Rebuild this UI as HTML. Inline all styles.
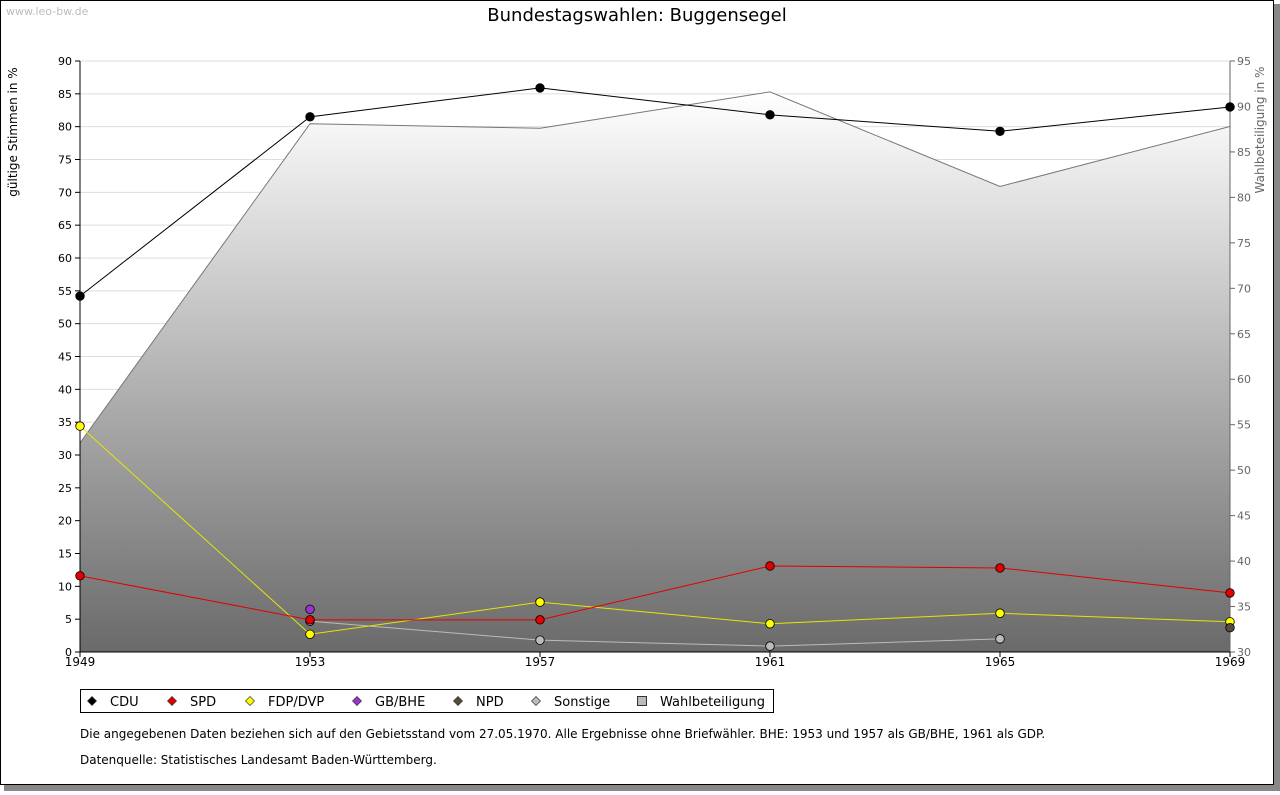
<!DOCTYPE html>
<html><head><meta charset="utf-8"><style>
body{margin:0;background:#fff;font-family:"DejaVu Sans",sans-serif;}
</style></head><body>
<svg id="c" width="1280" height="791" xmlns="http://www.w3.org/2000/svg" font-family="DejaVu Sans, sans-serif">
<defs><linearGradient id="g" x1="0" y1="0" x2="0" y2="1"><stop offset="0" stop-color="#ffffff"/><stop offset="1" stop-color="#6a6a6a"/></linearGradient></defs>
<rect x="4" y="4" width="1276" height="787" fill="#888"/>
<rect x="0.5" y="0.5" width="1273" height="784" fill="#fff" stroke="#000"/>
<text x="6" y="15" font-size="11" fill="#bbb">www.leo-bw.de</text>
<text x="637" y="21" font-size="18" text-anchor="middle">Bundestagswahlen: Buggensegel</text>
<g id="plot"></g>
<text transform="translate(17,132) rotate(-90)" font-size="12" text-anchor="middle">gültige Stimmen in %</text>
<text transform="translate(1264,130) rotate(-90)" font-size="12" fill="#666" text-anchor="middle">Wahlbeteiligung in %</text>
<g>
<rect x="80.5" y="689.5" width="693" height="23" fill="#fff" stroke="#000"/>
<g id="leg"></g>
</g>
<text x="80" y="738" font-size="12">Die angegebenen Daten beziehen sich auf den Gebietsstand vom 27.05.1970. Alle Ergebnisse ohne Briefwähler. BHE: 1953 und 1957 als GB/BHE, 1961 als GDP.</text>
<text x="80" y="764" font-size="12">Datenquelle: Statistisches Landesamt Baden-Württemberg.</text>
</svg>
<script>
const years=[1949,1953,1957,1961,1965,1969];
const cdu=[54.2,81.5,85.9,81.8,79.3,83.0];
const spd=[11.6,4.9,4.9,13.1,12.8,9.0];
const fdp=[34.4,2.7,7.6,4.3,5.9,4.6];
const bhe=[null,6.5,null,null,null,null];
const npd=[null,null,null,null,null,3.7];
const sonst=[null,4.7,1.8,0.9,2.0,null];
const wahl=[53.0,88.1,87.6,91.6,81.2,87.8];
const leftTicks=[0,5,10,15,20,25,30,35,40,45,50,55,60,65,70,75,80,85,90];
const rightTicks=[30,35,40,45,50,55,60,65,70,75,80,85,90,95];
const NS="http://www.w3.org/2000/svg";
const X=y=>80+(y-1949)/20*1150;
const Y=v=>652-v/90*591;
const Y2=v=>652-(v-30)/65*591;
const P=document.getElementById('plot');
function mk(t,a,p){const e=document.createElementNS(NS,t);for(const k in a)e.setAttribute(k,a[k]);(p||P).appendChild(e);return e;}
leftTicks.forEach(t=>{
 const g=mk('line',{x1:80,x2:1230,y1:Y(t),y2:Y(t),stroke:'#ddd'});
 
 
 mk('line',{x1:75,x2:80,y1:Y(t),y2:Y(t),stroke:'#000'});
 const tx=mk('text',{x:72,y:Y(t)+4,'font-size':11,'text-anchor':'end'});tx.textContent=t;
 
 
});
rightTicks.forEach(t=>{
 mk('line',{x1:1230,x2:1235,y1:Y2(t),y2:Y2(t),stroke:'#666'});
 const tx=mk('text',{x:1237,y:Y2(t)+4,'font-size':11,fill:'#666'});tx.textContent=t;
 
 
});
let d='M'+X(years[0])+','+Y2(30);years.forEach((y,i)=>d+='L'+X(y)+','+Y2(wahl[i]));d+='L'+X(1969)+','+Y2(30)+'Z';
const area=mk('path',{d:d,fill:'url(#g)'});


const wl=mk('polyline',{points:years.map((y,i)=>X(y)+','+Y2(wahl[i])).join(' '),fill:'none',stroke:'#777'});


mk('line',{x1:80,x2:80,y1:61,y2:652,stroke:'#000'});
mk('line',{x1:1230,x2:1230,y1:61,y2:652,stroke:'#666'});
mk('line',{x1:80,x2:1230,y1:652,y2:652,stroke:'#000'});
years.forEach(y=>{mk('line',{x1:X(y),x2:X(y),y1:652,y2:657,stroke:'#000'});
 const tx=mk('text',{x:X(y),y:666,'font-size':12,'text-anchor':'middle'});tx.textContent=y;
 
 });
function series(vals,line,fill,name){
 const pts=[];vals.forEach((v,i)=>{if(v!=null)pts.push([X(years[i]),Y(v)]);});
 if(pts.length>1){const l=mk('polyline',{points:pts.map(p=>p.join(',')).join(' '),fill:'none',stroke:line});
 
 }
 pts.forEach(p=>{const m=mk('circle',{cx:p[0],cy:p[1],r:4.3,fill:fill,stroke:'#000','stroke-width':0.8});
 
 });
}
series(sonst,'#bbb','#bbb','sonstige');
series(fdp,'#e6e600','#ffff00','fdp');
series(spd,'#e00000','#e00000','spd');
series(cdu,'#000','#000','cdu');
series(bhe,'#9933cc','#9933cc','gbbhe');
series(npd,'#5a4a3a','#5a4a3a','npd');
const L=document.getElementById('leg');
const legItems=[['CDU','#000',92],['SPD','#e00000',172],['FDP/DVP','#ffff00',250],['GB/BHE','#9933cc',357],['NPD','#5a4a3a',458],['Sonstige','#bbb',536]];
legItems.forEach(it=>{const x=it[2],y=701;
 const m=mk('path',{d:`M${x},${y-4.5}L${x+4.5},${y}L${x},${y+4.5}L${x-4.5},${y}Z`,fill:it[1],stroke:'#333','stroke-width':0.7},L);
 
 
 const t=mk('text',{x:x+18,y:706,'font-size':13},L);t.textContent=it[0];
 
 });
const sq=mk('rect',{x:637.5,y:696.5,width:9,height:9,fill:'#bbb',stroke:'#333'},L);


const wt=mk('text',{x:660,y:706,'font-size':13},L);wt.textContent='Wahlbeteiligung';


</script>
</body></html>
